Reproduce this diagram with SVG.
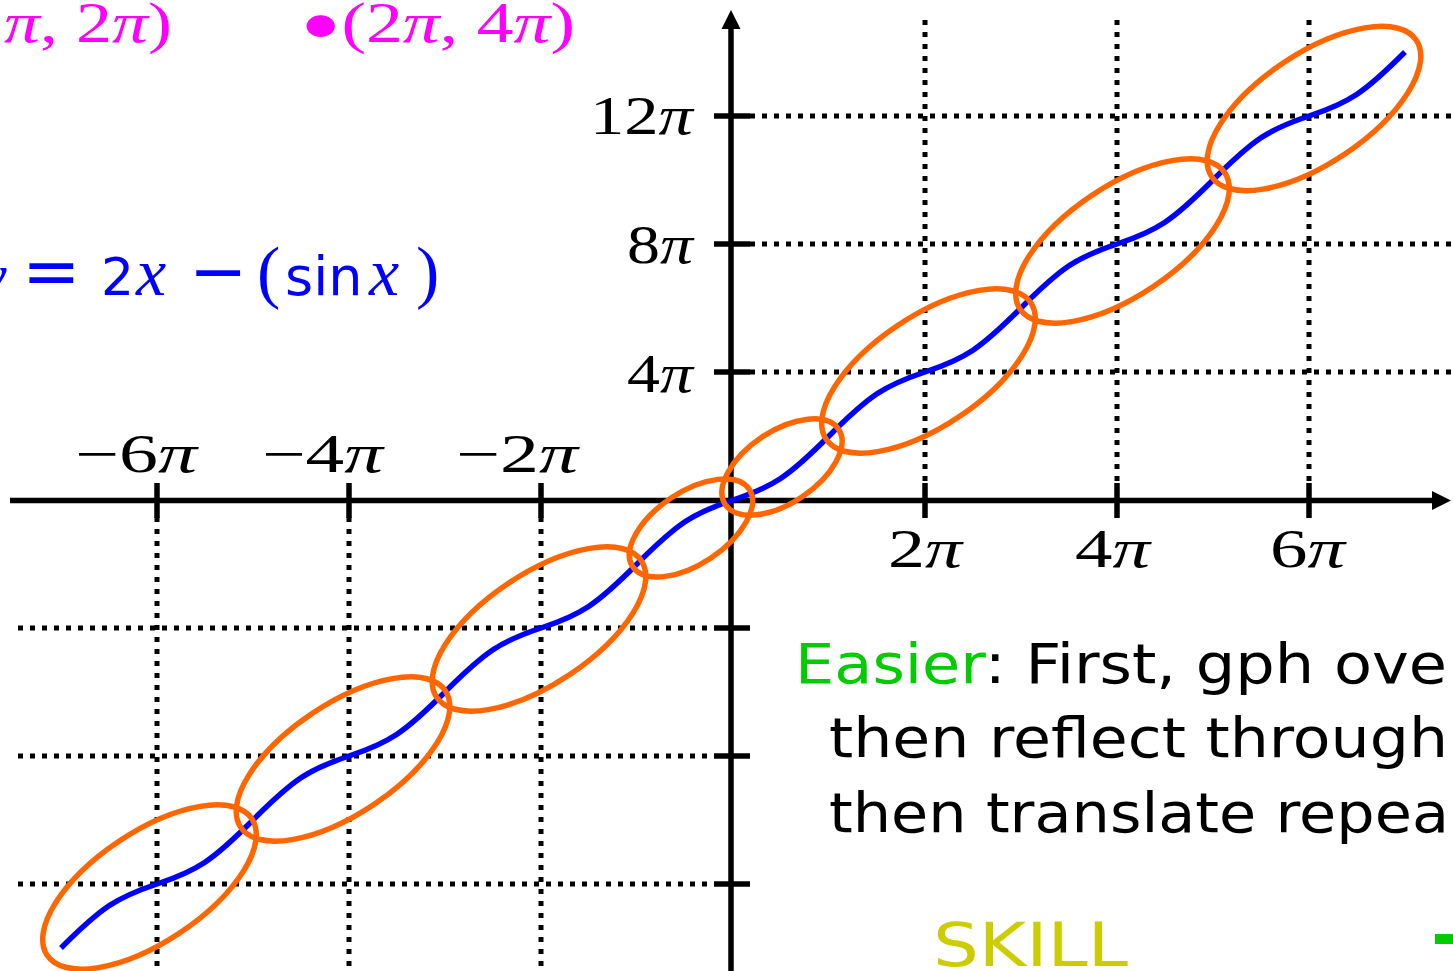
<svg xmlns="http://www.w3.org/2000/svg" width="1453" height="971" viewBox="0 0 1453 971">
<defs>
<style>
.grid{stroke:#000;stroke-width:5;stroke-dasharray:5 7;fill:none}
.axis{stroke:#000;stroke-width:5.5;fill:none}
.tick{stroke:#000;stroke-width:5.5;fill:none}
.ell{fill:none;stroke:#FF6600;stroke-width:5.5}
.curve{fill:none;stroke:#0000FF;stroke-width:5.5}
.tl{font-family:"Liberation Serif",serif;font-size:54px;fill:#000}
.pi{font-style:italic}
.mg{font-family:"Liberation Serif",serif;font-size:56px;fill:#FF00FF}
.bl{font-family:"Liberation Serif",serif;font-size:60px;fill:#0000FF}
.ss{font-family:"DejaVu Sans",sans-serif}
.txt{font-family:"DejaVu Sans",sans-serif;font-size:56px;fill:#000}
</style>
</defs>
<rect width="1453" height="971" fill="#fff"/>
<g id="grid" class="grid">
<path d="M750,116H1453M750,244H1453M750,372H1453M18,628H714M18,756H714M18,884H714M925,20V483M1117,20V483M1309,20V483M157,517V971M349,517V971M541,517V971"/>
</g>
<g id="axes">
<line class="axis" x1="10" y1="500.5" x2="1434" y2="500.5"/>
<polygon points="1451,500.5 1432,491 1432,510"/>
<line class="axis" x1="731" y1="971" x2="731" y2="28"/>
<polygon points="731,10 721.5,29 740.5,29"/>
<path class="tick" d="M157,483V518M349,483V518M541,483V518M925,483V518M1117,483V518M1309,483V518M714,116H750M714,244H750M714,372H750M714,628H750M714,756H750M714,884H750"/>
</g>
<g id="curve">
<path class="curve" d="M61,948 C77,932 93,916.48 109,905.81 C125,895.15 141,889.33 157,884 C173,878.67 189,872.85 205,862.19 C221,851.52 237,836 253,820 C269,804 285,788.48 301,777.81 C317,767.15 333,761.33 349,756 C365,750.67 381,744.85 397,734.19 C413,723.52 429,708 445,692 C461,676 477,660.48 493,649.81 C509,639.15 525,633.33 541,628 C557,622.67 573,616.85 589,606.19 C605,595.52 621,580 637,564 C653,548 669,532.48 685,521.81 C701,511.15 717,505.33 733,500 C749,494.67 765,488.85 781,478.19 C797,467.52 813,452 829,436 C845,420 861,404.48 877,393.81 C893,383.15 909,377.33 925,372 C941,366.67 957,360.85 973,350.19 C989,339.52 1005,324 1021,308 C1037,292 1053,276.48 1069,265.81 C1085,255.15 1101,249.33 1117,244 C1133,238.67 1149,232.85 1165,222.19 C1181,211.52 1197,196 1213,180 C1229,164 1245,148.48 1261,137.81 C1277,127.15 1293,121.33 1309,116 C1325,110.67 1341,104.85 1357,94.19 C1373,83.52 1389,68 1405,52"/>
</g>
<g id="ellipses">
<ellipse id="e1" class="ell" cx="149.5" cy="887" rx="123" ry="55" transform="rotate(-33.69 149.5 887)"/>
<ellipse id="e2" class="ell" cx="343" cy="759" rx="123" ry="55" transform="rotate(-33.69 343 759)"/>
<ellipse id="e3" class="ell" cx="539" cy="629" rx="123" ry="55" transform="rotate(-33.69 539 629)"/>
<ellipse id="e4" class="ell" cx="691" cy="528" rx="70" ry="36" transform="rotate(-33.69 691 528)"/>
<ellipse id="e5" class="ell" cx="782" cy="467" rx="68" ry="36" transform="rotate(-33.69 782 467)"/>
<ellipse id="e6" class="ell" cx="928.5" cy="371" rx="123" ry="55" transform="rotate(-33.69 928.5 371)"/>
<ellipse id="e7" class="ell" cx="1122.5" cy="241" rx="123" ry="55" transform="rotate(-33.69 1122.5 241)"/>
<ellipse id="e8" class="ell" cx="1314" cy="108.5" rx="123" ry="55" transform="rotate(-33.69 1314 108.5)"/>
</g>
<g id="tick-labels" class="tl">
<text x="75" y="472" textLength="122" lengthAdjust="spacingAndGlyphs">−6<tspan class="pi">π</tspan></text>
<text x="262" y="472" textLength="121" lengthAdjust="spacingAndGlyphs">−4<tspan class="pi">π</tspan></text>
<text x="456" y="472" textLength="122" lengthAdjust="spacingAndGlyphs">−2<tspan class="pi">π</tspan></text>
<text x="888" y="567" textLength="74" lengthAdjust="spacingAndGlyphs">2<tspan class="pi">π</tspan></text>
<text x="1075" y="567" textLength="75" lengthAdjust="spacingAndGlyphs">4<tspan class="pi">π</tspan></text>
<text x="1270" y="567" textLength="75" lengthAdjust="spacingAndGlyphs">6<tspan class="pi">π</tspan></text>
<text x="590" y="134" textLength="103" lengthAdjust="spacingAndGlyphs">12<tspan class="pi">π</tspan></text>
<text x="627" y="263" textLength="66" lengthAdjust="spacingAndGlyphs">8<tspan class="pi">π</tspan></text>
<text x="627" y="392" textLength="66" lengthAdjust="spacingAndGlyphs">4<tspan class="pi">π</tspan></text>
</g>
<g id="points" class="mg">
<text x="4" y="42" textLength="168" lengthAdjust="spacingAndGlyphs"><tspan class="pi">π</tspan>, 2<tspan class="pi">π</tspan>)</text>
<text x="300" y="42" textLength="275" lengthAdjust="spacingAndGlyphs"><tspan font-size="90" dy="14">•</tspan><tspan dy="-14">(2</tspan><tspan class="pi">π</tspan>, 4<tspan class="pi">π</tspan>)</text>
</g>
<g id="formula" class="bl">
<text y="295"><tspan x="-20" class="pi">y</tspan><tspan x="22" class="ss" font-size="70">=</tspan><tspan x="101" class="ss" font-size="52">2</tspan><tspan x="136" class="pi" font-size="68">x</tspan><tspan x="189" class="ss" font-size="70">−</tspan><tspan x="257" font-size="70">(</tspan><tspan x="285" class="ss" font-size="54">sin</tspan><tspan x="369" class="pi" font-size="68">x</tspan><tspan x="416" font-size="70">)</tspan></text>
</g>
<g id="note" class="txt">
<text x="795" y="683" textLength="652" lengthAdjust="spacingAndGlyphs"><tspan fill="#00CC00">Easier</tspan>: First, gph ove</text>
<text x="829" y="757" textLength="619" lengthAdjust="spacingAndGlyphs">then reflect through</text>
<text x="829" y="832" textLength="620" lengthAdjust="spacingAndGlyphs">then translate repea</text>
</g>
<g id="skill">
<text x="933" y="966" textLength="195" lengthAdjust="spacingAndGlyphs" font-family="DejaVu Sans, sans-serif" font-size="60" fill="#CCCC00">SKILL</text>
<rect x="1435" y="934" width="18" height="10" fill="#00CC00"/>
</g>
</svg>
